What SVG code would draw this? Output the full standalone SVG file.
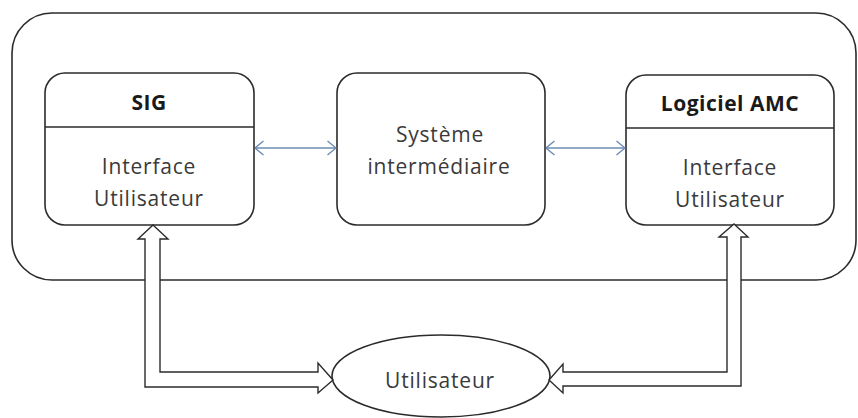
<svg xmlns="http://www.w3.org/2000/svg" width="858" height="418" viewBox="0 0 858 418">
<defs>
<style>
.box{fill:#fff;stroke:#2b2b2b;stroke-width:1.6}
.t{font-family:"Open Sans","DejaVu Sans",sans-serif;font-size:21px;fill:#3a3a3a;text-anchor:middle;letter-spacing:0.8px}
.b{font-weight:bold;fill:#1a1a1a;font-size:21px;letter-spacing:0.5px}
.lnk{stroke:#6a8db5;stroke-width:1.4;fill:none}
.big{fill:#fff;stroke:#2b2b2b;stroke-width:1.4;stroke-linejoin:miter}
</style>
<marker id="ah" viewBox="0 0 10 16" refX="9.5" refY="8" markerWidth="10" markerHeight="16" markerUnits="userSpaceOnUse" orient="auto-start-reverse">
<path d="M1,1 L9.5,8 L1,15" fill="none" stroke="#6a8db5" stroke-width="1.4"/>
</marker>
</defs>
<rect width="858" height="418" fill="#fff"/>
<g id="container">
<rect x="12" y="13" width="844" height="267" rx="40" ry="40" class="box"/>
</g>
<g id="sig">
<rect x="45" y="73" width="209" height="152" rx="20" ry="20" class="box"/>
<line x1="45" y1="127" x2="254" y2="127" stroke="#2b2b2b" stroke-width="1.6"/>
<text x="149" y="110" class="t b">SIG</text>
<text x="149" y="174" class="t">Interface</text>
<text x="149" y="206" class="t">Utilisateur</text>
</g>
<g id="intermediaire">
<rect x="337" y="73" width="208" height="152" rx="20" ry="20" class="box"/>
<text x="440" y="142" class="t">Système</text>
<text x="439" y="174" class="t">intermédiaire</text>
</g>
<g id="amc">
<rect x="626" y="75" width="208" height="150" rx="20" ry="20" class="box"/>
<line x1="626" y1="128" x2="834" y2="128" stroke="#2b2b2b" stroke-width="1.6"/>
<text x="730" y="111" class="t b">Logiciel AMC</text>
<text x="730" y="175" class="t">Interface</text>
<text x="730" y="207" class="t">Utilisateur</text>
</g>
<g id="utilisateur">
<ellipse cx="441" cy="376" rx="109" ry="41" class="box"/>
<text x="440" y="388" class="t">Utilisateur</text>
</g>
<g id="connectors">
<line x1="255" y1="148" x2="336" y2="148" class="lnk" marker-start="url(#ah)" marker-end="url(#ah)"/>
<line x1="546" y1="148" x2="625" y2="148" class="lnk" marker-start="url(#ah)" marker-end="url(#ah)"/>
<path class="big" d="M153,225 L168,239 L160,239 L160,372 L318,372 L318,363 L333,380 L318,393 L318,387 L145,387 L145,239 L138,239 Z"/>
<path class="big" d="M734,224 L748,237 L741,237 L741,386 L563,386 L563,393 L549,380 L563,364 L563,372 L727,372 L727,237 L719,237 Z"/>
</g>
</svg>
